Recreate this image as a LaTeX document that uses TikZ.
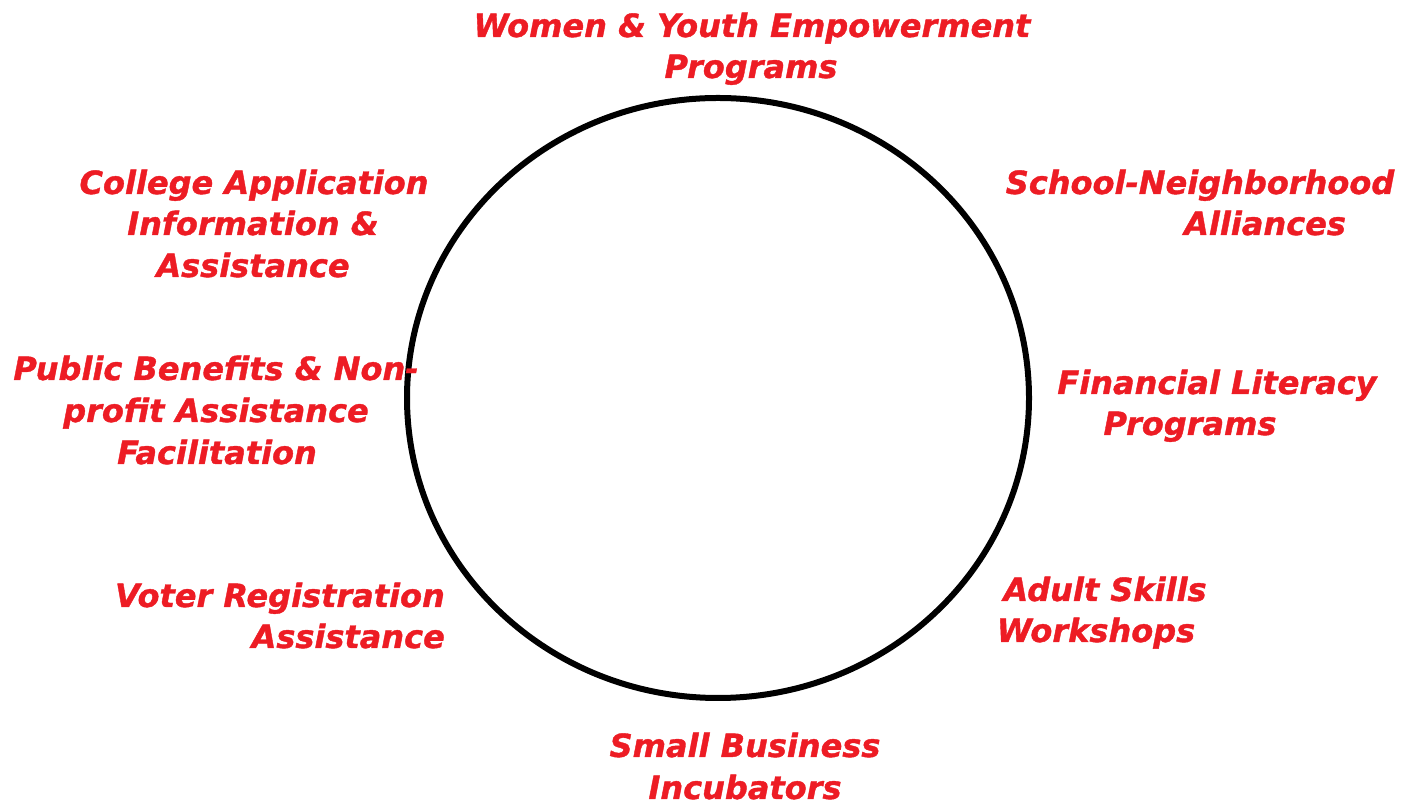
\documentclass[tikz,border=0pt]{standalone}
\usepackage{fontspec}
\setmainfont{DejaVu Sans}
\newfontfamily\lblfont[FakeBold=1.2]{DejaVu Sans}
\definecolor{lblred}{RGB}{237,28,36}
\begin{document}
\begin{tikzpicture}[x=1pt,y=1pt,
  lbl/.style={text=lblred,font=\lblfont\fontsize{32}{41}\selectfont\bfseries\itshape,inner sep=0pt,anchor=base}]
\useasboundingbox (0,0) rectangle (1407,802);
\draw[line width=6pt] (718,404) ellipse [x radius=311, y radius=300];
\node[lbl] (w1) at (752,765) {Women \& Youth Empowerment};
\node[lbl] (w2) at (751,724) {Programs};
\node[lbl] (s1) at (1200,608) {School-Neighborhood};
\node[lbl] (s2) at (1265,567) {Alliances};
\node[lbl] (c1) at (254,608) {College Application};
\node[lbl] (c2) at (253,567) {Information \&};
\node[lbl] (c3) at (253,525) {Assistance};
\node[lbl] (p1) at (216,422) {Public Benefits \& Non-};
\node[lbl] (p2) at (216,380) {profit Assistance};
\node[lbl] (p3) at (217,338) {Facilitation};
\node[lbl] (f1) at (1217,408) {Financial Literacy};
\node[lbl] (f2) at (1190,367) {Programs};
\node[lbl] (a1) at (1105,201) {Adult Skills};
\node[lbl] (a2) at (1096,160) {Workshops};
\node[lbl,anchor=base east] (v1) at (445,195) {Voter Registration};
\node[lbl,anchor=base east] (v2) at (445,154) {Assistance};
\node[lbl] (b1) at (745,45) {Small Business};
\node[lbl] (b2) at (745,3) {Incubators};
\end{tikzpicture}
\end{document}
